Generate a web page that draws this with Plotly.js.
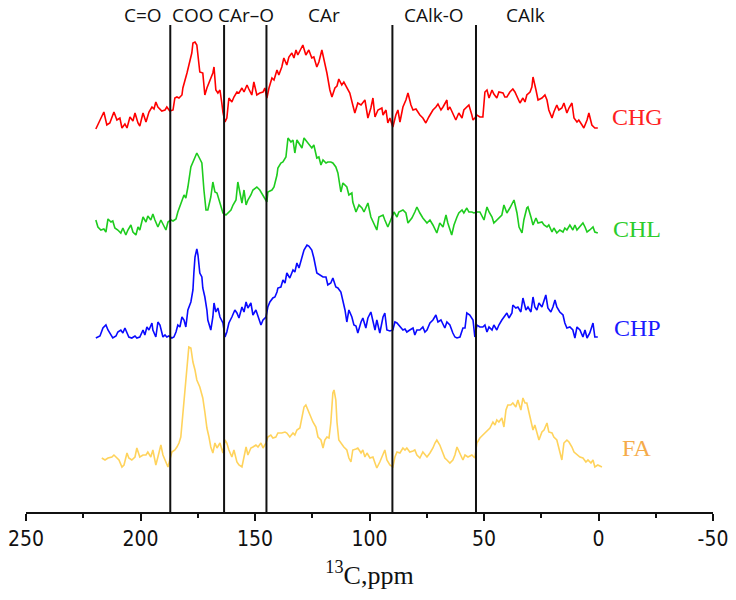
<!DOCTYPE html>
<html>
<head>
<meta charset="utf-8">
<script src="https://cdn.plot.ly/plotly-3.0.1.min.js"></script>
<style>html,body{margin:0;padding:0;background:#fff;} #chart{width:736px;height:600px;}</style>
</head>
<body>
<div id="chart"></div>
<script>
// ---- data: chemical shift (ppm) and relative intensity above each trace's baseline ----
const ppmCHG = [219.5,216.0,214.7,213.4,211.6,210.3,209.0,208.1,206.8,205.9,204.6,203.3,202.4,201.1,200.3,198.9,197.6,196.3,195.0,194.1,193.3,192.4,190.7,189.3,188.5,187.2,185.8,185.0,184.1,183.2,181.9,181.5,179.7,178.4,177.6,177.1,176.2,175.4,174.9,174.1,172.8,171.9,171.0,169.7,168.4,167.9,167.1,166.2,165.3,164.5,164.0,163.1,162.3,161.4,160.1,159.2,157.9,157.0,155.7,154.8,153.5,152.7,151.4,150.5,149.2,147.9,146.5,145.7,144.8,143.9,142.6,141.7,140.4,139.6,138.3,137.4,136.1,135.2,133.9,133.0,132.1,131.3,129.9,129.1,127.8,126.5,125.2,124.3,123.0,122.1,120.8,119.5,118.6,117.3,116.4,115.1,114.2,113.4,112.1,111.2,109.9,108.6,107.3,106.4,105.1,103.7,102.0,100.7,99.4,98.5,97.6,96.3,94.6,94.1,92.8,92.0,91.1,89.8,88.5,87.6,86.7,85.4,84.1,83.2,81.9,81.0,79.7,78.0,76.7,75.4,74.1,72.3,71.0,70.1,68.8,67.9,66.2,65.8,64.9,63.6,62.3,61.0,59.6,58.8,57.5,56.6,55.3,54.8,54.0,53.1,51.8,50.5,49.6,48.7,47.8,46.5,45.7,44.4,43.5,41.7,40.9,40.0,38.7,37.4,36.5,35.6,34.3,33.0,32.1,31.3,29.9,29.1,28.6,27.3,26.4,24.7,23.4,22.5,21.7,20.3,19.5,18.2,17.3,16.0,15.1,13.8,12.9,11.6,10.7,9.4,8.6,7.2,6.4,5.0,4.2,2.9,1.6,0.3];
const intCHG = [-1,16,3,5,16,8,10,0,4,0,11,7,15,5,2,15,6,16,21,19,26,21,17,18,21,17,18,30,31,30,33,40,55,66,75,85,86,83,71,56,55,33,40,48,55,61,38,35,38,25,16,6,10,30,26,31,36,35,40,36,43,39,33,46,33,35,36,40,30,40,50,48,58,53,61,70,63,71,75,70,78,73,80,83,73,78,70,71,61,66,78,65,55,38,31,40,42,49,43,46,41,35,23,15,25,23,28,10,20,30,11,18,20,13,18,5,10,1,13,18,6,21,28,35,23,18,19,13,10,5,11,18,21,24,18,21,28,18,21,15,8,15,10,18,21,23,13,8,10,13,11,11,36,38,30,38,34,30,36,35,31,31,36,39,36,31,25,30,26,33,36,41,51,38,28,30,33,28,18,10,16,23,18,20,25,15,20,25,10,6,8,3,0,8,15,3,0,0];

const ppmCHL = [219.5,218.6,217.3,216.0,215.1,214.2,212.9,212.1,211.2,209.9,208.6,207.7,206.4,205.5,204.2,203.3,202.0,201.1,200.3,198.9,197.6,196.8,195.5,194.6,193.7,192.4,191.1,190.2,188.9,188.0,186.7,185.8,184.5,183.7,181.9,181.0,180.2,179.3,178.0,177.1,176.2,175.4,174.5,173.2,172.3,171.4,170.6,169.3,168.4,167.5,166.6,165.8,164.5,164.0,162.7,161.8,160.5,159.6,158.3,157.5,156.6,155.7,154.8,153.9,153.1,151.8,150.9,149.2,147.9,146.5,145.7,144.8,144.4,142.6,141.7,140.4,140.0,138.7,137.8,136.5,135.6,134.3,133.4,132.6,131.7,130.8,129.5,128.6,127.3,126.5,125.2,124.3,123.0,122.1,121.2,120.3,119.0,118.2,116.9,116.0,114.7,113.8,112.5,111.6,109.9,109.0,107.7,107.3,105.9,104.6,103.3,102.4,101.1,100.7,99.4,98.5,96.8,95.9,94.1,93.3,92.0,90.2,89.3,88.0,87.2,85.4,84.1,83.2,81.5,80.2,79.3,78.0,76.7,74.9,73.6,72.3,70.6,69.3,67.9,66.6,65.8,64.1,63.1,61.8,61.0,59.6,58.8,57.5,56.6,55.3,54.4,53.1,51.8,50.0,48.7,47.8,46.5,45.7,44.4,43.5,42.2,41.3,40.0,38.7,37.4,36.9,35.6,34.7,33.4,32.6,31.3,30.8,29.5,28.6,27.3,26.4,24.7,23.8,22.5,21.7,20.3,19.5,18.2,16.9,15.5,14.7,13.8,12.5,11.2,10.3,9.4,8.1,6.8,5.9,5.0,3.8,2.4,1.6,0.3];
const intCHL = [13,6,3,4,1,14,11,12,5,3,0,5,-2,3,8,1,-2,6,3,16,11,17,13,19,13,6,13,9,3,11,13,12,14,21,33,38,35,46,66,71,76,80,76,70,43,23,23,36,51,41,40,33,23,20,18,20,23,28,33,51,40,30,43,28,33,38,43,46,43,38,35,31,41,43,46,58,65,70,71,76,95,91,93,80,93,90,85,95,91,88,85,88,75,76,68,73,70,71,71,70,66,60,41,50,46,38,40,31,21,28,25,21,28,30,16,11,3,16,18,13,6,16,21,16,21,23,20,10,15,21,26,20,15,10,13,8,0,10,6,18,10,-2,8,16,20,23,20,25,21,21,20,21,21,13,26,21,16,10,13,16,18,28,20,25,30,33,20,6,0,13,25,26,16,8,15,10,11,8,6,8,1,5,0,3,1,5,3,8,3,8,3,6,10,6,1,3,6,1,0];

const ppmCHP = [219.5,217.7,216.4,215.1,214.2,212.9,212.1,210.7,209.9,208.6,207.7,206.8,205.9,205.1,203.8,202.4,201.6,200.3,198.9,198.1,197.2,196.3,195.0,194.6,193.3,192.4,191.5,190.2,189.3,188.5,187.6,186.3,185.4,184.5,183.7,182.8,181.9,181.0,180.2,179.3,178.0,177.1,176.7,176.2,175.4,174.9,174.1,173.2,172.8,171.9,171.0,170.6,169.3,168.4,167.9,167.1,166.2,165.3,164.0,163.1,162.3,161.4,160.1,158.8,157.9,157.0,155.7,154.8,153.9,153.1,151.8,150.9,149.6,148.7,147.4,146.5,145.2,144.4,143.5,142.2,141.3,140.4,140.0,138.7,137.8,136.9,136.1,134.8,133.4,132.6,131.7,130.8,129.5,128.6,127.3,126.5,125.2,124.3,123.0,121.7,120.3,119.0,118.2,116.9,116.0,114.7,113.8,112.5,111.6,110.7,109.9,109.0,107.7,106.8,105.9,105.1,103.7,102.9,101.6,100.7,99.4,98.5,97.6,96.8,95.5,94.1,93.3,92.4,91.1,89.8,88.9,88.0,86.7,85.4,84.5,83.7,82.4,81.0,80.2,79.3,78.0,76.7,75.8,74.9,73.6,72.3,71.0,70.1,68.8,67.9,67.1,66.2,64.9,63.6,62.7,61.8,60.5,59.2,58.3,57.5,56.2,54.8,54.0,53.1,51.8,50.5,49.6,48.7,47.8,46.5,45.7,44.4,43.5,42.2,41.3,40.0,39.1,37.8,37.4,36.1,35.2,33.9,33.0,31.7,30.8,29.5,28.6,27.8,26.9,26.0,24.7,23.8,23.0,22.1,20.8,19.9,19.0,18.2,16.9,15.5,14.7,13.8,12.5,11.2,10.3,9.4,8.1,6.8,5.9,5.0,3.8,2.4,1.6,0.3];
const intCHP = [-1,1,9,12,7,2,-1,1,5,7,4,9,4,0,-1,1,-1,0,7,2,10,7,14,7,0,15,12,0,2,0,1,-1,0,5,12,10,20,17,10,27,35,47,64,80,88,82,64,60,49,40,27,17,7,20,34,25,29,20,14,0,5,14,20,27,24,19,30,25,35,29,34,22,27,20,12,17,20,30,35,39,40,45,49,50,57,54,64,59,67,65,74,69,80,87,92,91,87,79,64,62,60,60,52,54,59,50,49,45,37,27,15,27,20,12,11,4,15,19,9,19,25,14,7,17,4,20,24,7,6,7,15,14,10,7,8,5,7,9,2,7,7,10,5,7,14,17,22,15,17,12,9,15,12,4,0,-1,0,9,9,24,22,17,0,12,10,10,12,5,10,7,12,7,12,17,20,24,19,24,32,29,30,25,39,27,30,25,40,30,27,34,30,37,42,29,25,30,37,30,25,22,14,9,10,7,-1,10,7,0,7,-1,4,14,0,0];

const ppmFA = [216.9,215.5,214.2,212.5,211.6,210.7,209.4,208.1,207.2,205.9,205.1,203.8,202.4,201.6,200.3,198.9,197.6,196.8,195.5,194.6,193.3,192.4,191.1,190.2,188.9,188.0,186.3,185.0,184.1,183.2,182.4,181.5,180.6,179.7,178.9,178.0,177.1,176.2,175.4,174.1,172.8,171.9,171.0,170.1,169.3,168.4,167.5,166.6,165.3,164.0,163.1,162.3,161.4,160.1,159.2,157.9,157.0,155.7,154.8,153.9,153.1,151.8,150.9,149.6,148.7,147.4,146.5,145.2,144.4,143.1,142.2,140.9,140.0,138.3,136.9,136.1,134.8,133.4,132.6,131.7,130.4,129.5,128.6,127.8,126.9,125.6,124.7,123.4,122.5,121.2,120.3,119.5,118.6,117.7,116.9,116.0,115.5,114.7,114.2,113.4,112.1,111.2,109.9,109.0,108.1,107.3,105.9,105.1,103.7,102.9,102.0,101.1,99.8,98.5,97.6,96.8,95.5,94.1,93.3,92.4,91.1,89.8,88.9,88.0,86.7,85.4,84.5,83.7,82.4,81.0,80.2,79.3,78.0,76.7,75.8,74.9,73.6,72.3,71.4,70.6,69.3,67.9,67.1,66.2,64.9,63.6,62.7,61.8,60.5,59.2,58.3,57.0,55.3,54.0,53.1,51.8,50.5,49.6,48.7,47.4,46.1,45.2,44.4,43.5,42.2,41.3,40.4,39.6,38.3,37.4,36.1,35.2,33.9,33.0,32.1,31.3,29.9,28.6,27.8,26.9,26.0,24.7,23.8,22.5,21.7,20.3,19.5,18.2,17.3,16.0,15.1,13.8,12.9,11.6,10.7,9.4,8.1,6.8,5.5,4.6,3.3,2.4,1.6,0.3,-1.5];
const intFA = [7,5,7,8,10,8,5,-2,0,12,7,5,8,17,8,10,10,13,8,15,0,8,20,10,2,-2,13,15,18,22,28,50,70,95,118,117,103,95,85,78,67,53,37,28,18,12,22,17,22,12,25,22,15,8,15,3,0,-2,10,18,10,17,18,20,18,22,17,22,28,30,27,28,32,32,33,32,28,32,30,35,37,47,58,60,55,48,43,38,28,25,17,25,28,27,42,72,75,65,43,25,20,18,15,7,3,15,16,17,12,15,8,12,7,8,2,-3,3,12,15,5,0,-2,8,13,12,17,15,17,13,14,15,10,7,13,11,8,12,17,22,25,20,12,7,5,2,5,10,18,12,5,10,8,10,7,22,27,30,32,35,37,43,40,45,43,47,38,55,60,60,62,58,65,55,67,62,62,48,35,40,33,25,33,35,42,33,32,28,25,17,5,22,25,23,18,13,10,8,7,3,5,2,5,-2,0,-2];

// sample names and stacking
const sampleNames = ['CHG', 'CHL', 'CHP', 'FA'];
const samplePpm = [ppmCHG, ppmCHL, ppmCHP, ppmFA];
const sampleInt = [intCHG, intCHL, intCHP, intFA];

// region boundaries (ppm) and region names
const boundaries = [187, 163.5, 145, 90, 53.5];
const regionNames = ['C=O', 'COO', 'CAr\u2013O', 'CAr', 'CAlk-O', 'CAlk'];
const regionCenters = [199, 177, 154, 120, 72, 32];

// tick values of the shift axis
const tickVals = [250, 200, 150, 100, 50, 0, -50];
const tickText = ['250', '200', '150', '100', '50', '0', '-50'];

// ---- styling ----
const offsets = [384, 279, 175, 47];
const lineColors = ['#ff0000', '#1ecc1e', '#0a0aff', '#ffd35c'];
const labelColors = ['#ff2020', '#2ccc2c', '#1a1aff', '#f5ab4a'];
const labelLift = [11, 4, 9, 17];

const traces = sampleNames.map((name, i) => ({
  type: 'scatter', mode: 'lines', name: name,
  x: samplePpm[i],
  y: sampleInt[i].map(v => v + offsets[i]),
  line: {color: lineColors[i], width: 1.6},
  hoverinfo: 'skip'
}));

const shapes = boundaries.map(b => ({
  type: 'line', xref: 'x', yref: 'paper', x0: b, x1: b, y0: 0, y1: 0.951,
  line: {color: '#111', width: 2}
}));

const annotations = regionNames.map((t, i) => ({
  text: t, xref: 'x', yref: 'paper', x: regionCenters[i], y: 0.97,
  xanchor: 'center', yanchor: 'middle', showarrow: false,
  font: {family: 'Open Sans, Noto Sans, sans-serif', size: 19, color: '#111'}
})).concat(sampleNames.map((n, i) => ({
  text: n, xref: 'x', yref: 'y', x: -17, y: offsets[i] + labelLift[i],
  xanchor: 'center', yanchor: 'middle', showarrow: false,
  font: {family: 'Liberation Serif, Times New Roman, serif', size: 24, color: labelColors[i]}
})));

const layout = {
  width: 736, height: 600,
  margin: {l: 26, r: 23, t: 0, b: 88},
  paper_bgcolor: '#fff', plot_bgcolor: '#fff',
  showlegend: false,
  xaxis: {
    range: [250, -50], showgrid: false, zeroline: false,
    showline: true, linecolor: '#111', linewidth: 2,
    ticks: 'outside', ticklen: 7, tickwidth: 2, tickcolor: '#111',
    tickvals: tickVals, ticktext: tickText,
    minor: {ticks: 'outside', ticklen: 4, tickwidth: 2, tickcolor: '#111', dtick: 25, showgrid: false},
    tickfont: {family: 'Liberation Sans Narrow, DejaVu Sans Condensed, Liberation Sans, sans-serif', size: 21, color: '#111'},
    title: {text: '<sup>13</sup>C,ppm', standoff: 16,
      font: {family: 'Liberation Serif, Times New Roman, serif', size: 26, color: '#111'}}
  },
  yaxis: {range: [0, 512], visible: false, showgrid: false, zeroline: false, fixedrange: true},
  shapes: shapes,
  annotations: annotations
};

Plotly.newPlot('chart', traces, layout, {displayModeBar: false, staticPlot: true});
</script>
</body>
</html>
